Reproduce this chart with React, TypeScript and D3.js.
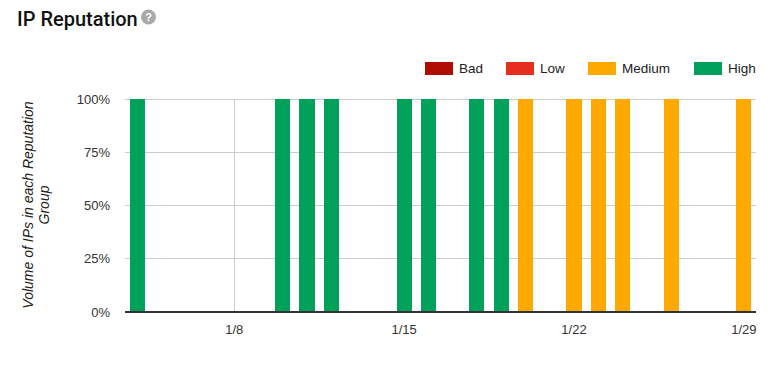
import React from "react";
import * as d3 from "d3";

const days: string[] = [
  "2018-01-04", "2018-01-05", "2018-01-06", "2018-01-07", "2018-01-08", "2018-01-09",
  "2018-01-10", "2018-01-11", "2018-01-12", "2018-01-13", "2018-01-14", "2018-01-15",
  "2018-01-16", "2018-01-17", "2018-01-18", "2018-01-19", "2018-01-20", "2018-01-21",
  "2018-01-22", "2018-01-23", "2018-01-24", "2018-01-25", "2018-01-26", "2018-01-27",
  "2018-01-28", "2018-01-29",
];
const bad: number[] = [0,0,0,0,0,0, 0,0,0,0,0,0, 0,0,0,0,0,0, 0,0,0,0,0,0, 0,0];
const low: number[] = [0,0,0,0,0,0, 0,0,0,0,0,0, 0,0,0,0,0,0, 0,0,0,0,0,0, 0,0];
const medium: number[] = [0,0,0,0,0,0, 0,0,0,0,0,0, 0,0,0,0,100,0, 100,100,100,0,100,0, 0,100];
const high: number[] = [100,0,0,0,0,0, 100,100,100,0,0,100, 100,0,100,100,0,0, 0,0,0,0,0,0, 0,0];

const seriesNames = ["Bad", "Low", "Medium", "High"];
const seriesColors = ["#b00d02", "#e62e1e", "#fda900", "#00a15a"];
const yTicks = [0, 25, 50, 75, 100];
const xTickDays = ["2018-01-08", "2018-01-15", "2018-01-22", "2018-01-29"];

const W = 777;
const H = 372;
const left = 125;
const right = 756;
const top = 99;
const bottom = 312;

export default function App() {
  const parse = d3.utcParse("%Y-%m-%d");
  const dates = days.map((d) => parse(d) as Date);
  const halfDay = 12 * 3600 * 1000;
  const x = d3
    .scaleUtc()
    .domain([new Date(dates[0].getTime() - halfDay), new Date(dates[dates.length - 1].getTime() + halfDay)])
    .range([left, right]);
  const y = d3.scaleLinear().domain([0, 100]).range([bottom, top]);
  const dayW = x(dates[1]) - x(dates[0]);
  const barW = dayW * 0.62;

  const rows = dates.map((d, i) => ({
    date: d,
    Bad: bad[i],
    Low: low[i],
    Medium: medium[i],
    High: high[i],
  }));
  const stack = d3.stack<any>().keys(seriesNames);
  const stacked = stack(rows);
  const fmt = d3.utcFormat("%-m/%-d");
  const xTicks = xTickDays.map((d) => parse(d) as Date);

  const font = "'Liberation Sans', Arial, Helvetica, sans-serif";
  const legendX = [425, 506, 588, 694];

  return (
    <svg
      width={W}
      height={H}
      style={{ position: "absolute", left: 0, top: 0, background: "#fff" }}
      fontFamily={font}
    >
      <rect x={0} y={0} width={W} height={H} fill="#fff" />
      <text x={17} y={26} fontFamily="Roboto, sans-serif" fontWeight={500} fontSize={20} fill="#111">
        IP Reputation
      </text>
      <g transform="translate(148.5,17)">
        <circle r={7.5} fill="#a9a9a9" />
        <text y={4} textAnchor="middle" fontSize={11} fontWeight="bold" fill="#fff" fontFamily={font}>
          ?
        </text>
      </g>

      {/* legend */}
      {seriesNames.map((name, i) => (
        <g key={name}>
          <rect x={legendX[i]} y={62} width={28} height={13} fill={seriesColors[i]} />
          <text x={legendX[i] + 34} y={72.5} fontSize={13.5} fill="#222">
            {name}
          </text>
        </g>
      ))}

      {/* grid */}
      {yTicks.filter((t) => t > 0).map((t) => (
        <line key={t} x1={left} x2={right} y1={y(t)} y2={y(t)} stroke="#cccccc" strokeWidth={1} shapeRendering="crispEdges" />
      ))}
      {xTicks.map((t, i) => (
        <line key={i} x1={x(t)} x2={x(t)} y1={top} y2={bottom} stroke="#cccccc" strokeWidth={1} shapeRendering="crispEdges" />
      ))}

      {/* bars */}
      {stacked.map((s, si) => (
        <g key={s.key} fill={seriesColors[si]}>
          {s.map((p, i) =>
            p[1] - p[0] > 0 ? (
              <rect
                key={i}
                x={x(dates[i]) - barW / 2}
                width={barW}
                y={y(p[1])}
                height={y(p[0]) - y(p[1])}
                shapeRendering="crispEdges"
              />
            ) : null
          )}
        </g>
      ))}

      {/* baseline */}
      <line x1={left} x2={right} y1={bottom} y2={bottom} stroke="#333" strokeWidth={1.5} shapeRendering="crispEdges" />

      {/* y labels */}
      {yTicks.map((t) => (
        <text key={t} x={110} y={y(t) + 4.5} textAnchor="end" fontSize={13} fill="#333">
          {t}%
        </text>
      ))}

      {/* x labels */}
      {xTicks.map((t, i) => (
        <text key={i} x={x(t)} y={334} textAnchor="middle" fontSize={13} fill="#333">
          {fmt(t)}
        </text>
      ))}

      {/* y axis title */}
      <g transform="translate(35,205) rotate(-90)" fontStyle="italic" fontSize={14} fill="#222" textAnchor="middle">
        <text x={0} y={-2}>Volume of IPs in each Reputation</text>
        <text x={0} y={14}>Group</text>
      </g>
    </svg>
  );
}
